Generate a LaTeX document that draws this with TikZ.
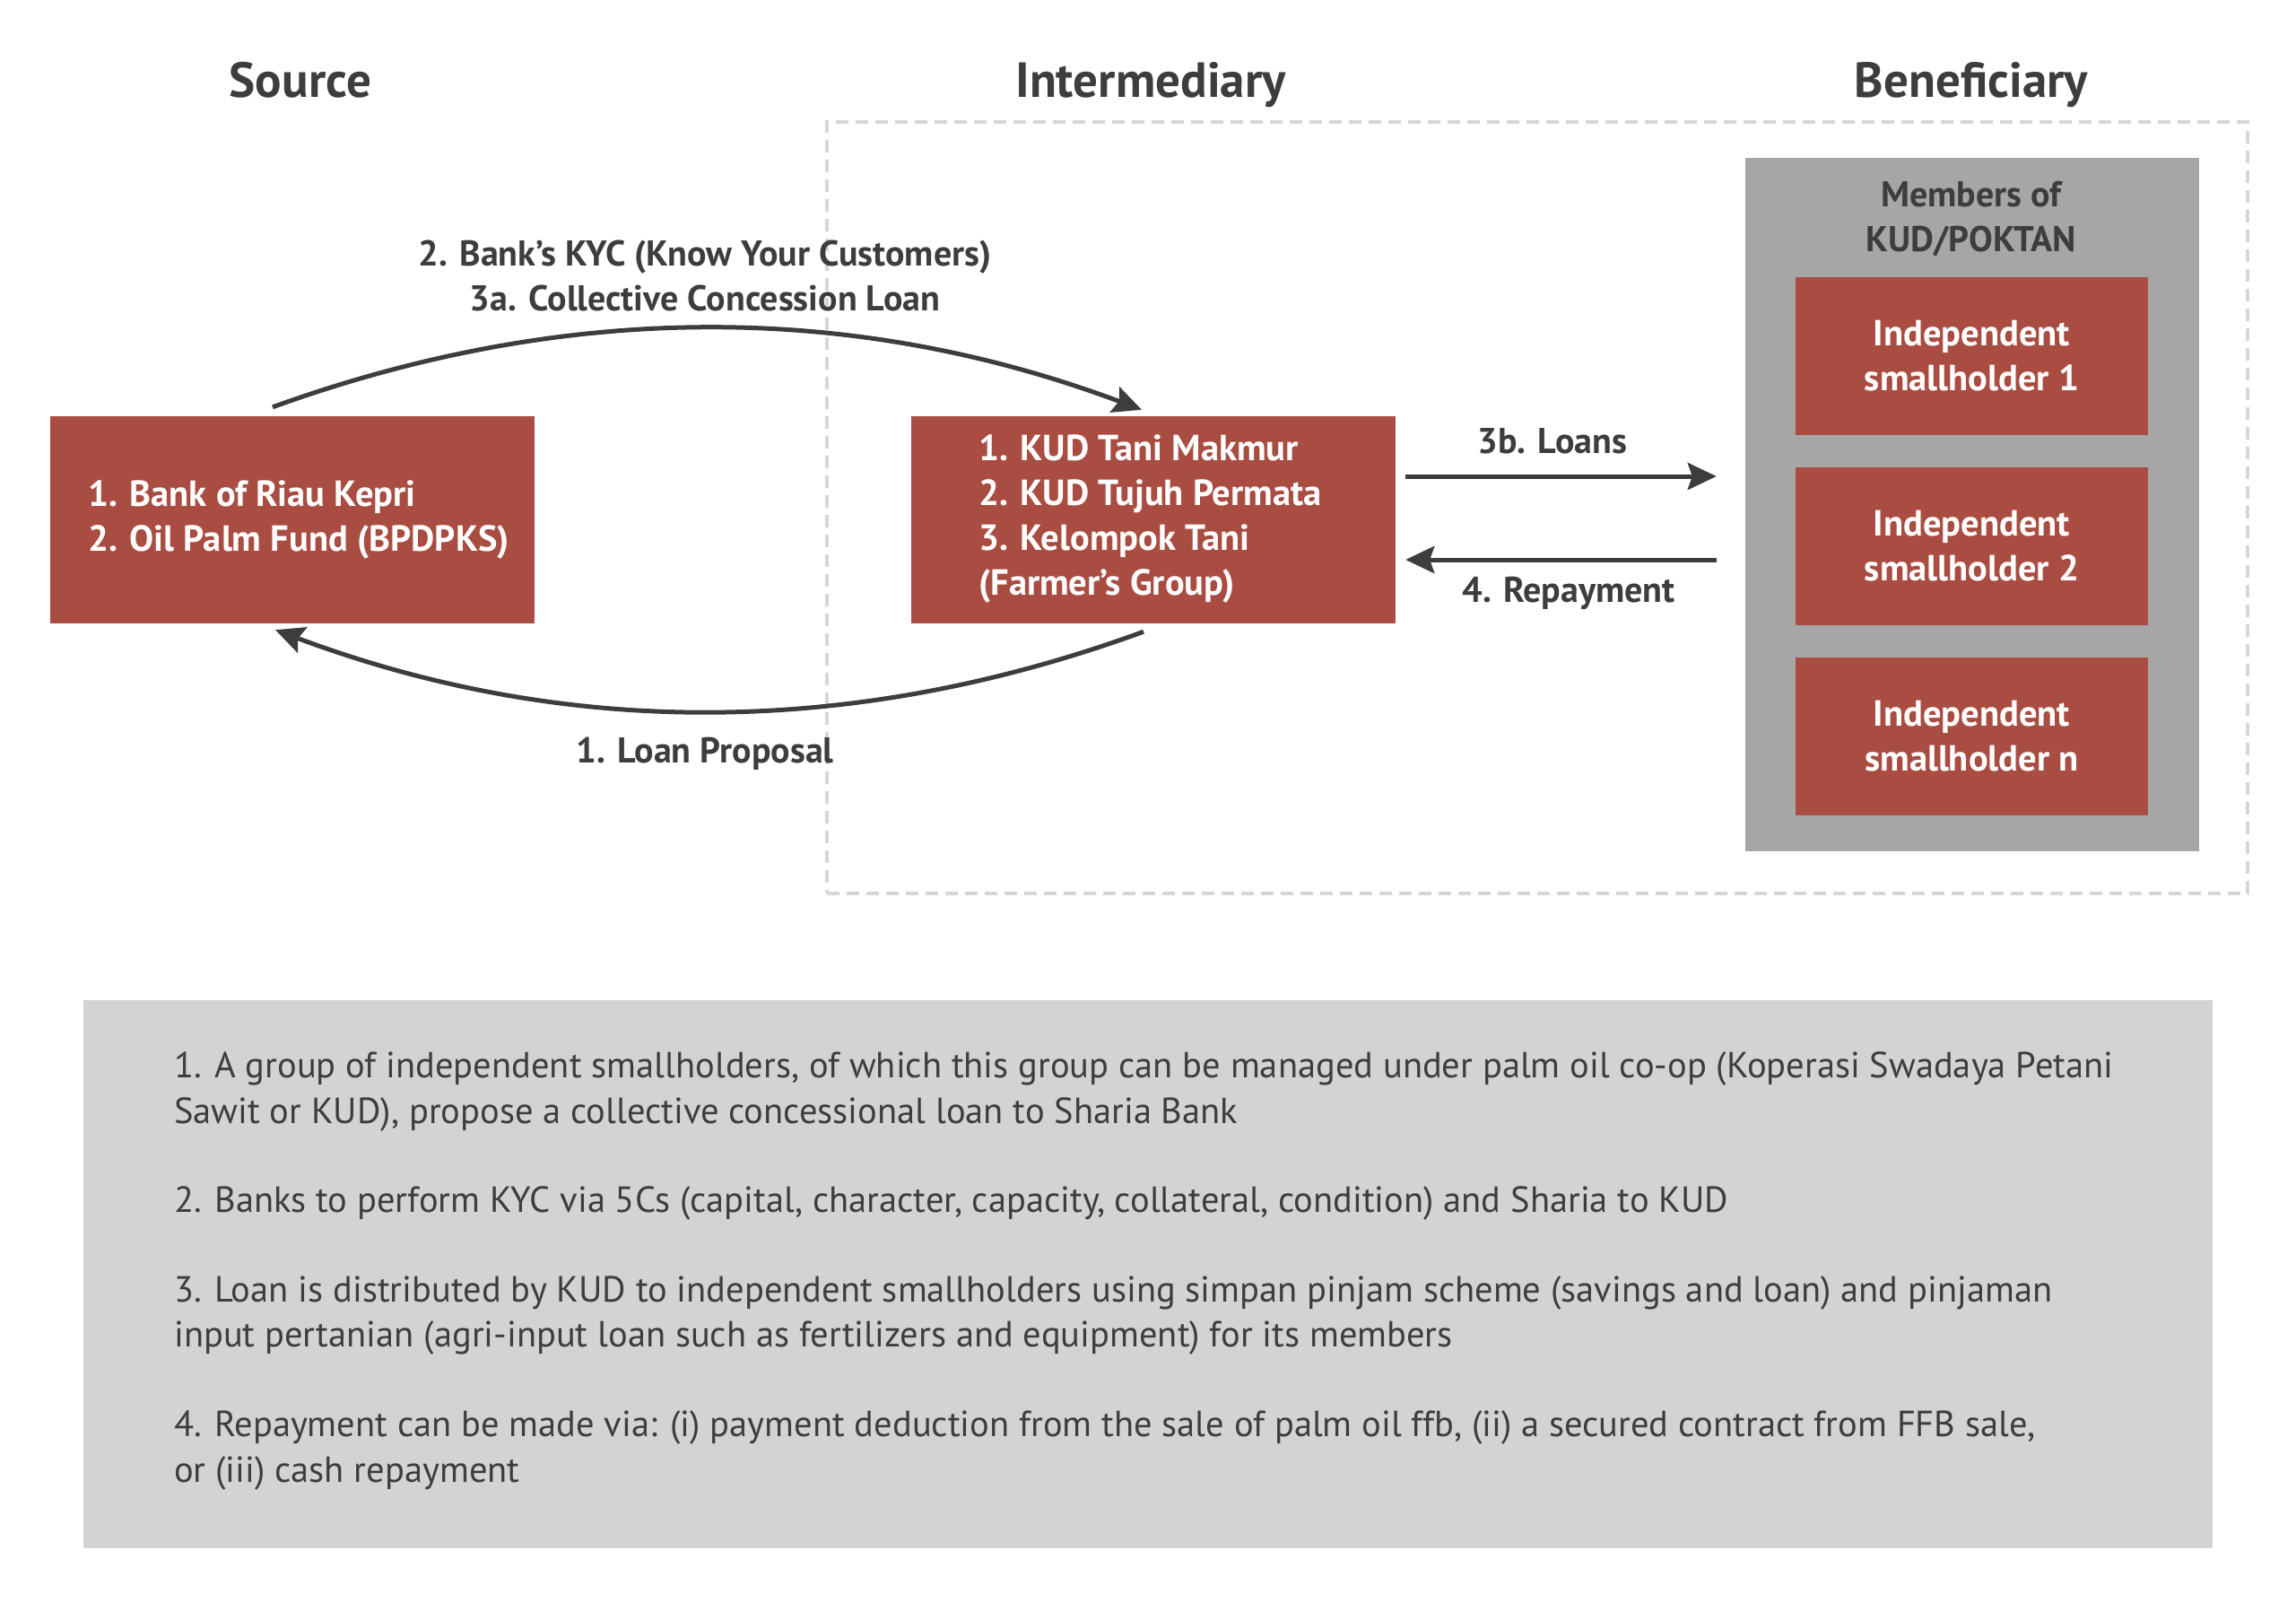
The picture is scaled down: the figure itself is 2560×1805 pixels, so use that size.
\documentclass[tikz,border=0pt]{standalone}
\usepackage{fontspec}
\setmainfont{PT Sans}
\usetikzlibrary{arrows.meta}
\definecolor{txt}{HTML}{3D3D3D}
\definecolor{boxred}{HTML}{A94D42}
\definecolor{memgray}{HTML}{A6A6A6}
\definecolor{notegray}{HTML}{D3D3D3}
\definecolor{dashgray}{HTML}{D6D6D6}
\begin{document}
\begin{tikzpicture}[x=1pt,y=-1pt,
  hdr/.style={text=txt, font=\fontsize{55}{60}\selectfont\bfseries, inner sep=0, anchor=base},
  redbox/.style={fill=boxred, draw=none, inner sep=0},
  whitetxt/.style={text=white, font=\fontsize{40.5}{50}\selectfont\bfseries, inner sep=0},
  lbl/.style={text=txt, font=\fontsize{40}{50}\selectfont\bfseries, inner sep=0, align=center},
  note/.style={text=txt, font=\fontsize{40.5}{50}\selectfont, inner sep=0, anchor=base west},
  flow/.style={draw=txt, line width=5pt, -{Stealth[length=32pt,width=30pt,inset=5pt]}},
]
\useasboundingbox (0,0) rectangle (2560,1805);
\fill[white] (0,0) rectangle (2560,1805);

% headers
\node[hdr] (hsrc) at (335,108) {Source};
\node[hdr] (hint) at (1283,108) {Intermediary};
\node[hdr] (hben) at (2198,108) {Beneficiary};

% dashed region
\node[draw=dashgray, line width=4.5pt, dash pattern=on 14pt off 8pt, minimum width=1584pt, minimum height=860pt, inner sep=0] (region) at (1714,566) {};

% members box
\node[fill=memgray, minimum width=506pt, minimum height=773pt, inner sep=0] (mem) at (2199,562.5) {};
\node[lbl] (memt) at (2198,244) {Members of\\KUD/POKTAN};

\node[redbox, minimum width=393pt, minimum height=176pt] (sh1) at (2198.5,397) {};
\node[redbox, minimum width=393pt, minimum height=176pt] (sh2) at (2198.5,609) {};
\node[redbox, minimum width=393pt, minimum height=176pt] (shn) at (2198.5,821) {};
\node[whitetxt, align=center] (sh1t) at (sh1) {Independent\\smallholder 1};
\node[whitetxt, align=center] (sh2t) at (sh2) {Independent\\smallholder 2};
\node[whitetxt, align=center] (shnt) at (shn) {Independent\\smallholder n};

% source and intermediary
\node[redbox, minimum width=540pt, minimum height=231pt] (src) at (326,579.5) {};
\node[whitetxt, align=left, anchor=west] (srct) at (98,580) {1. Bank of Riau Kepri\\2. Oil Palm Fund (BPDPKS)};
\node[redbox, minimum width=540pt, minimum height=231pt] (int) at (1286,579.5) {};
\node[whitetxt, align=left, anchor=west] (intt) at (1091,579) {1. KUD Tani Makmur\\2. KUD Tujuh Permata\\3. Kelompok Tani\\(Farmer’s Group)};

% curved arrows
\draw[flow] ([shift={(-22,-10)}]src.north) .. controls (630,336) and (950,336) .. ([shift={(-13,-7)}]int.north);
\draw[flow] ([shift={(-11,9)}]int.south) .. controls (950,823) and (630,823) .. ([shift={(-19,7)}]src.south);
\node[lbl] (kyc) at (786,307) {2. Bank’s KYC (Know Your Customers)\\3a. Collective Concession Loan};
\node[lbl] (prop) at (786,840) {1. Loan Proposal};

% straight arrows
\draw[flow] ([shift={(11,-48.5)}]int.east) -- ([shift={(-32,-31.5)}]mem.west);
\draw[flow] ([shift={(-32,61.5)}]mem.west) -- ([shift={(11,44.5)}]int.east);
\node[lbl] (loans) at (1731,492) {3b. Loans};
\node[lbl] (repay) at (1749,661) {4. Repayment};

% notes
\node[fill=notegray, minimum width=2374pt, minimum height=611pt, inner sep=0] (notes) at (1280,1420.5) {};
\node[note] (n1a) at (194,1201) {1. A group of independent smallholders, of which this group can be managed under palm oil co-op (Koperasi Swadaya Petani};
\node[note] (n1b) at (194,1252) {Sawit or KUD), propose a collective concessional loan to Sharia Bank};
\node[note] (n2) at (194,1351) {2. Banks to perform KYC via 5Cs (capital, character, capacity, collateral, condition) and Sharia to KUD};
\node[note] (n3a) at (194,1451) {3. Loan is distributed by KUD to independent smallholders using simpan pinjam scheme (savings and loan) and pinjaman};
\node[note] (n3b) at (194,1501) {input pertanian (agri-input loan such as fertilizers and equipment) for its members};
\node[note] (n4a) at (194,1601) {4. Repayment can be made via: (i) payment deduction from the sale of palm oil ffb, (ii) a secured contract from FFB sale,};
\node[note] (n4b) at (194,1652) {or (iii) cash repayment};
\end{tikzpicture}
\end{document}
